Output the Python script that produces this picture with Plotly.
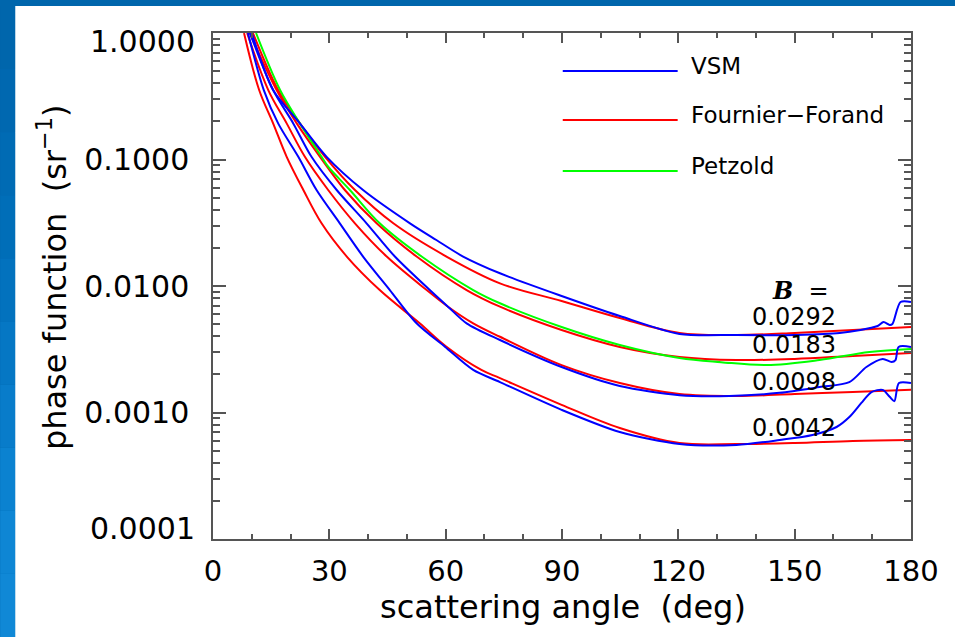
import plotly.graph_objects as go

# ---------------- data ----------------
vsm_0292_angle = [10.0, 15.5, 22.4, 29.3, 38.7, 50.8, 57.6, 64.5, 74.0, 89.9, 104.9, 120.3, 135.0, 150.0, 161.6, 171.4, 172.9, 174.5, 175.2, 177.3, 180.0]
vsm_0292_value = [1.0, 0.354, 0.193, 0.105, 0.0574, 0.0313, 0.0231, 0.0171, 0.0126, 0.00834, 0.00579, 0.00418, 0.00410, 0.00410, 0.00425, 0.00483, 0.00519, 0.00492, 0.00500, 0.00748, 0.00748]

vsm_0098_angle = [9.5, 15.5, 20.7, 25.4, 31.9, 39.6, 46.9, 55.9, 60.6, 65.4, 74.0, 89.9, 104.9, 120.3, 133.2, 146.1, 156.4, 164.1, 168.5, 172.7, 175.0, 176.0, 176.8, 180.0]
vsm_0098_value = [1.0, 0.354, 0.193, 0.105, 0.0574, 0.0313, 0.0171, 0.00929, 0.00686, 0.00507, 0.00374, 0.00229, 0.00162, 0.00137, 0.00135, 0.00143, 0.00159, 0.00174, 0.00229, 0.00265, 0.00251, 0.00260, 0.00330, 0.00330]

vsm_0042_angle = [9.0, 13.1, 16.8, 22.0, 26.7, 32.7, 38.7, 45.6, 52.5, 59.8, 67.1, 74.0, 89.9, 104.9, 120.3, 135.0, 146.1, 154.6, 160.8, 164.1, 167.2, 169.8, 172.7, 174.5, 175.7, 176.9, 180.0]
vsm_0042_value = [1.0, 0.354, 0.193, 0.105, 0.0574, 0.0313, 0.0171, 0.00929, 0.00507, 0.00331, 0.00217, 0.00174, 0.00105, 0.000701, 0.000563, 0.000554, 0.000606, 0.000664, 0.000768, 0.000921, 0.00119, 0.00145, 0.00151, 0.00133, 0.00123, 0.00171, 0.00171]

ff_0292_angle = [10.3, 16.8, 22.4, 28.9, 36.6, 46.5, 60.2, 74.0, 89.9, 104.9, 120.3, 135.0, 150.0, 165.0, 180.0]
ff_0292_value = [1.0, 0.354, 0.193, 0.105, 0.0574, 0.0313, 0.0171, 0.0105, 0.00761, 0.00558, 0.00425, 0.00410, 0.00425, 0.00449, 0.00474]

ff_0183_angle = [9.5, 16.4, 21.6, 27.6, 34.0, 42.2, 52.5, 65.4, 74.0, 89.9, 104.9, 120.3, 135.0, 150.0, 165.0, 180.0]
ff_0183_value = [1.0, 0.354, 0.193, 0.105, 0.0574, 0.0313, 0.0171, 0.00929, 0.00686, 0.00449, 0.00330, 0.00275, 0.00260, 0.00265, 0.00280, 0.00295]

ff_0098_angle = [8.8, 14.25, 19.0, 23.7, 29.7, 36.6, 44.8, 55.1, 60.6, 67.1, 74.0, 89.9, 104.9, 120.3, 135.0, 150.0, 165.0, 180.0]
ff_0098_value = [1.0, 0.354, 0.193, 0.105, 0.0574, 0.0313, 0.0171, 0.00929, 0.00686, 0.00507, 0.00397, 0.00237, 0.00171, 0.00140, 0.00135, 0.00140, 0.00145, 0.00151]

ff_0042_angle = [8.0, 11.9, 15.5, 19.0, 23.3, 28.0, 34.5, 43.0, 53.3, 60.2, 69.2, 74.0, 89.9, 104.9, 120.3, 135.0, 150.0, 165.0, 180.0]
ff_0042_value = [1.0, 0.354, 0.193, 0.105, 0.0574, 0.0313, 0.0171, 0.00929, 0.00507, 0.00331, 0.00217, 0.00187, 0.00115, 0.000754, 0.000574, 0.000563, 0.000574, 0.000596, 0.000606]

petzold_angle = [11.1, 17.3, 22.4, 28.0, 29.7, 35.3, 43.0, 53.8, 67.1, 74.0, 89.9, 104.9, 120.3, 131.0, 142.8, 156.4, 169.3, 180.0]
petzold_value = [1.0, 0.354, 0.193, 0.105, 0.0877, 0.0574, 0.0313, 0.0171, 0.00929, 0.00730, 0.00474, 0.00342, 0.00270, 0.00250, 0.00237, 0.00260, 0.00301, 0.00318]

b_labels = ["0.0292", "0.0183", "0.0098", "0.0042"]
legend_names = ["VSM", "Fournier\u2212Forand", "Petzold"]
x_ticks = [0, 30, 60, 90, 120, 150, 180]
y_ticks = [1e-4, 1e-3, 1e-2, 1e-1, 1.0]
y_ticktext = ["0.0001", "0.0010", "0.0100", "0.1000", "1.0000"]

BLUE, RED, GREEN = "#0000FF", "#FF0000", "#00FF00"
FONT = "DejaVu Sans"

fig = go.Figure()

def add(x, y, color, smooth):
    fig.add_trace(go.Scatter(x=x, y=y, mode="lines",
                             line=dict(color=color, width=2, shape="spline", smoothing=smooth),
                             showlegend=False, hoverinfo="skip"))

for a, v in [(ff_0292_angle, ff_0292_value), (ff_0183_angle, ff_0183_value),
             (ff_0098_angle, ff_0098_value), (ff_0042_angle, ff_0042_value)]:
    add(a, v, RED, 1.0)
add(petzold_angle, petzold_value, GREEN, 1.0)
for a, v in [(vsm_0292_angle, vsm_0292_value), (vsm_0098_angle, vsm_0098_value),
             (vsm_0042_angle, vsm_0042_value)]:
    add(a, v, BLUE, 0.8)

# ---------------- layout ----------------
W, H = 955, 637
L, R, T, B = 213, 43.5, 33, 98
pw, ph = W - L - R, H - T - B

def px(xp):
    return (xp - L) / pw

def py(yp):
    return (H - B - yp) / ph

shapes = []
# slide background: white panel and blue left strip gradient
shapes.append(dict(type="rect", xref="paper", yref="paper", layer="below",
                   x0=px(15), x1=px(W + 5), y0=py(6), y1=py(H + 5),
                   fillcolor="white", line=dict(width=0)))
strip_cols = ["#0066AC", "#0068B0", "#006BB4", "#006EB8", "#0272BE", "#0577C4", "#087CCA", "#0B82D0", "#0E86D4", "#1088D6"]
n = len(strip_cols)
for i, c in enumerate(strip_cols):
    y0p = 6 + (H - 6) * i / n
    y1p = 6 + (H - 6) * (i + 1) / n
    shapes.append(dict(type="rect", xref="paper", yref="paper", layer="below",
                       x0=px(0), x1=px(15), y0=py(y1p), y1=py(y0p),
                       fillcolor=c, line=dict(width=0)))

# legend lines
leg_y = [71, 120, 171]
leg_c = [BLUE, RED, GREEN]
for yy, c in zip(leg_y, leg_c):
    shapes.append(dict(type="line", xref="paper", yref="paper",
                       x0=px(563), x1=px(678), y0=py(yy), y1=py(yy),
                       line=dict(color=c, width=2)))

annotations = []
for yy, name in zip(leg_y, legend_names):
    annotations.append(dict(xref="paper", yref="paper", x=px(689), y=py(yy - 5),
                            text=name, showarrow=False, xanchor="left", yanchor="middle",
                            font=dict(family=FONT, size=23, color="black")))

annotations.append(dict(xref="paper", yref="paper", x=px(801), y=py(290),
                        text="<i><b>B</b></i>  =", showarrow=False,
                        xanchor="center", yanchor="middle",
                        font=dict(family="DejaVu Serif", size=24, color="black")))
for yy, t in zip([317, 345, 382, 428], b_labels):
    annotations.append(dict(xref="paper", yref="paper", x=px(794), y=py(yy),
                            text=t, showarrow=False, xanchor="center", yanchor="middle",
                            font=dict(family=FONT, size=24, color="black")))

# y end labels (offset inward like the original)
annotations.append(dict(xref="paper", yref="paper", x=0, y=1, xshift=-16, yshift=-8,
                        text=y_ticktext[-1], showarrow=False, xanchor="right", yanchor="middle",
                        font=dict(family=FONT, size=30, color="black")))
annotations.append(dict(xref="paper", yref="paper", x=0, y=0, xshift=-16, yshift=11,
                        text=y_ticktext[0], showarrow=False, xanchor="right", yanchor="middle",
                        font=dict(family=FONT, size=30, color="black")))

# axis titles
annotations.append(dict(xref="paper", yref="paper", x=px(563), y=py(607),
                        text="scattering angle  (deg)", showarrow=False,
                        xanchor="center", yanchor="middle",
                        font=dict(family=FONT, size=32, color="black")))
annotations.append(dict(xref="paper", yref="paper", x=px(52), y=py(277),
                        text="phase function  (sr<sup>\u22121</sup>)", showarrow=False,
                        textangle=-90, xanchor="center", yanchor="middle",
                        font=dict(family=FONT, size=32, color="black")))

minor_y = [m * 10.0 ** e for e in range(-4, 0) for m in range(2, 10)]

AX = "#555555"
fig.update_layout(
    width=W, height=H,
    margin=dict(l=L, r=R, t=T, b=B, pad=0),
    paper_bgcolor="#0066AC", plot_bgcolor="white",
    shapes=shapes, annotations=annotations,
    showlegend=False,
    xaxis=dict(range=[0, 180], tickmode="array", tickvals=x_ticks,
               ticktext=[str(v) for v in x_ticks],
               ticks="inside", ticklen=10, tickwidth=1.5, tickcolor=AX,
               showline=True, linecolor=AX, linewidth=1.5, mirror="ticks",
               showgrid=False, zeroline=False,
               minor=dict(ticks="inside", ticklen=5, tickwidth=1.5, tickcolor=AX,
                          tickmode="linear", tick0=0, dtick=10, showgrid=False),
               tickfont=dict(family=FONT, size=29, color="black"),
               ticklabelstandoff=5),
    yaxis=dict(type="log", range=[-4, 0], tickmode="array", tickvals=y_ticks,
               ticktext=[""] + y_ticktext[1:4] + [""],
               ticks="inside", ticklen=13, tickwidth=1.5, tickcolor=AX,
               showline=True, linecolor=AX, linewidth=1.5, mirror="ticks",
               showgrid=False, zeroline=False,
               minor=dict(ticks="inside", ticklen=7, tickwidth=1.5, tickcolor=AX,
                          tickmode="array", tickvals=minor_y, showgrid=False),
               tickfont=dict(family=FONT, size=30, color="black"),
               ticklabelstandoff=16),
)

fig.write_html("out.html")
